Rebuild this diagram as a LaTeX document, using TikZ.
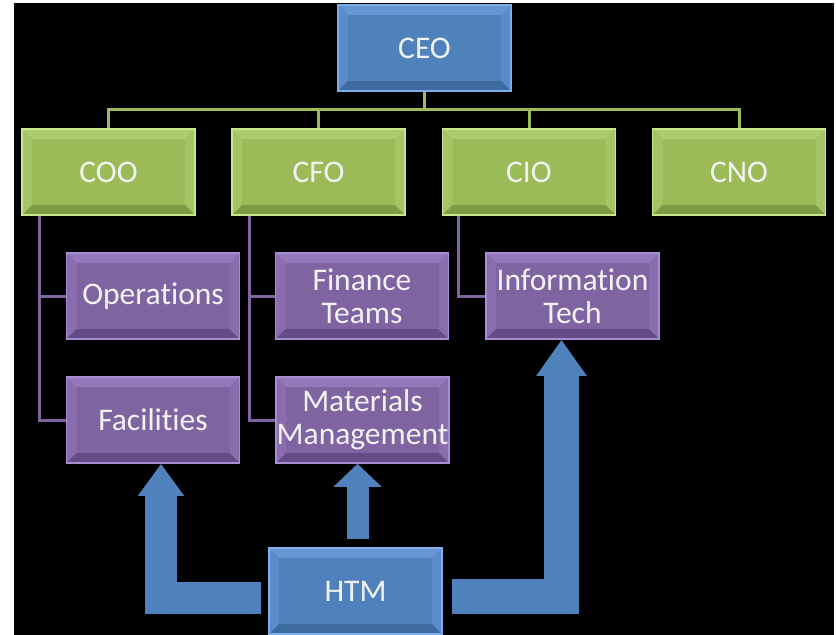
\documentclass[tikz,border=0pt]{standalone}
\usepackage{fontspec}
\setmainfont[Ligatures=NoCommon]{Carlito}
\usetikzlibrary{arrows.meta}

\definecolor{ceoblue}{HTML}{4F81BD}
\definecolor{ceoedge}{HTML}{7FAEEA}
\definecolor{ceolight}{HTML}{6796D4}
\definecolor{ceoside}{HTML}{5A8BCB}
\definecolor{ceodark}{HTML}{3D6A9F}
\definecolor{mgrgreen}{HTML}{9BBB59}
\definecolor{mgredge}{HTML}{C6E88A}
\definecolor{mgrlight}{HTML}{AECB6E}
\definecolor{mgrside}{HTML}{A5C465}
\definecolor{mgrdark}{HTML}{7E9A45}
\definecolor{deptpurple}{HTML}{8064A2}
\definecolor{deptedge}{HTML}{A98CD6}
\definecolor{deptlight}{HTML}{9478BA}
\definecolor{deptside}{HTML}{8A6DAE}
\definecolor{deptdark}{HTML}{664C86}

\tikzset{
  box/.style={rectangle, minimum width=173pt, minimum height=86pt, inner sep=0pt,
    text=white!95!black, align=center, font=\fontsize{31.5}{33}\selectfont},
  % beveled face: #1 fill, #2 rim, #3 top, #4 sides, #5 bottom
  bevel/.style n args={5}{box, fill=#1, draw=#2, line width=1.6pt,
    path picture={
      \coordinate (nw) at (path picture bounding box.north west);
      \coordinate (ne) at (path picture bounding box.north east);
      \coordinate (sw) at (path picture bounding box.south west);
      \coordinate (se) at (path picture bounding box.south east);
      \fill[#3] (nw) -- (ne) -- ([shift={(-10pt,-10pt)}]ne) -- ([shift={(10pt,-10pt)}]nw) -- cycle;
      \fill[#4] (nw) -- (sw) -- ([shift={(10pt,10pt)}]sw) -- ([shift={(10pt,-10pt)}]nw) -- cycle;
      \fill[#4] (ne) -- (se) -- ([shift={(-10pt,10pt)}]se) -- ([shift={(-10pt,-10pt)}]ne) -- cycle;
      \fill[#5] (sw) -- (se) -- ([shift={(-10pt,10pt)}]se) -- ([shift={(10pt,10pt)}]sw) -- cycle;
    }},
  chief/.style={bevel={ceoblue}{ceoedge}{ceolight}{ceoside}{ceodark}},
  officer/.style={bevel={mgrgreen}{mgredge}{mgrlight}{mgrside}{mgrdark}},
  dept/.style={bevel={deptpurple}{deptedge}{deptlight}{deptside}{deptdark}},
  greenline/.style={draw=mgrgreen, line width=3pt},
  purpleline/.style={draw=deptpurple, line width=3pt},
  feed/.style={draw=ceoblue, line join=miter}
}

\begin{document}
\begin{tikzpicture}[x=1pt, y=-1pt]
  \useasboundingbox (0,0) rectangle (836,635);
  \fill[black] (14,3) rectangle (834,635);

  % top and the four officers
  \node[chief] (ceo) at (424.5,48) {CEO};
  \node[officer] (coo) at (108.5,172) {COO};
  \node[officer] (cfo) at (318.5,172) {CFO};
  \node[officer] (cio) at (529,172) {CIO};
  \node[officer] (cno) at (739,172) {CNO};

  % departments
  \node[dept] (ops) at (153,296) {Operations};
  \node[dept] (fac) at (153,420) {Facilities};
  \node[dept] (fin) at (362,296) {Finance\\Teams};
  \node[dept] (mat) at (362.5,420) {Materials\\Management};
  \node[dept] (it) at (572.5,296) {Information\\Tech};

  \node[chief] (htm) at (355.5,591) {HTM};

  \coordinate (bus) at (424.5,109);
  \begin{scope}[greenline]
    \draw (ceo.south) -- (bus);
    \foreach \m in {coo,cfo,cio,cno}
      \draw (bus) -| (\m.north);
  \end{scope}

  \begin{scope}[purpleline]
    \draw ([xshift=18pt]coo.south west) |- (ops.west);
    \draw ([xshift=18pt]coo.south west) |- (fac.west);
    \draw ([xshift=18pt]cfo.south west) |- (fin.west);
    \draw ([xshift=18pt]cfo.south west) |- (mat.west);
    \draw ([xshift=17pt]cio.south west) |- (it.west);
  \end{scope}

  % HTM feeds up into three departments
  \coordinate (up) at ([xshift=2pt]htm.north);
  \draw[feed, line width=32pt, shorten <=7pt, -{Triangle[length=32pt,width=44pt]}]
    ([yshift=-7pt]htm.west) -| ([xshift=8pt]fac.south);
  \draw[feed, line width=22pt, shorten <=8pt, -{Triangle[length=23pt,width=47pt]}]
    (up) -- (up |- mat.south);
  \draw[feed, line width=35pt, shorten <=9pt, -{Triangle[length=36pt,width=48pt]}]
    ([yshift=-5pt]htm.east) -| ([xshift=-11pt]it.south);
\end{tikzpicture}
\end{document}
